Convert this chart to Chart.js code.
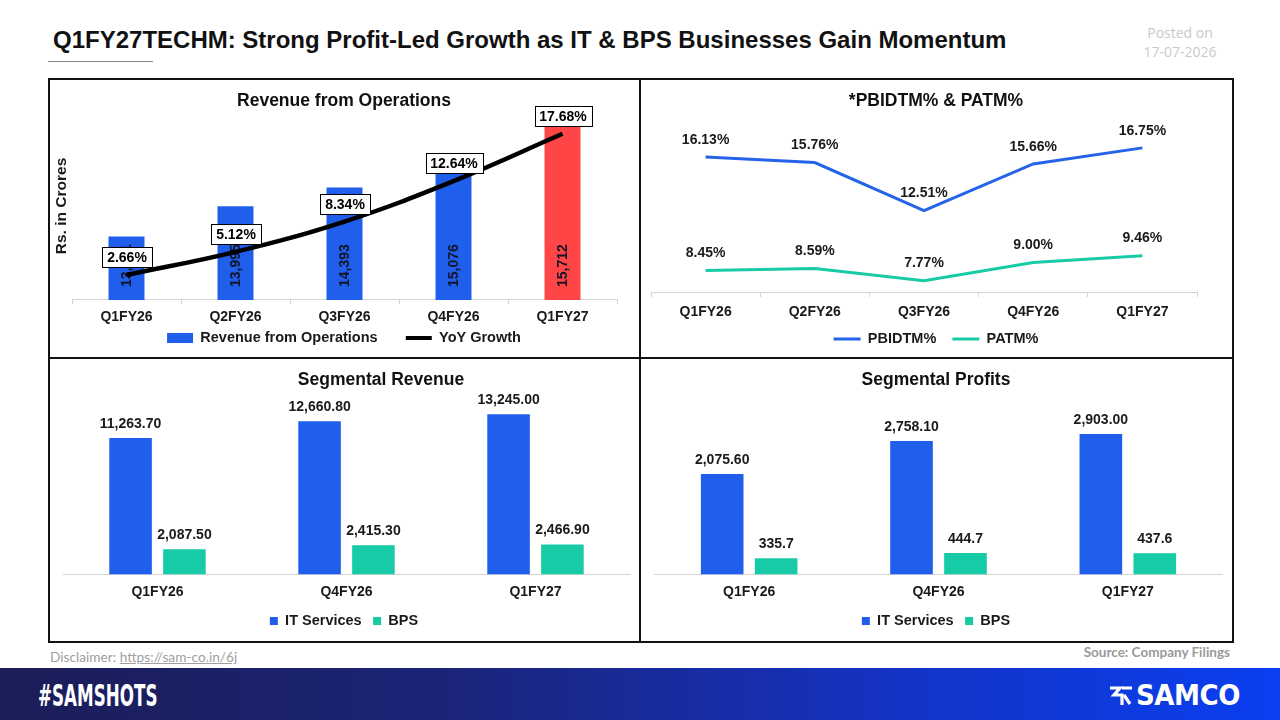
<!DOCTYPE html>
<html>
<head>
<meta charset="utf-8">
<script src="https://cdn.jsdelivr.net/npm/chart.js@4.4.1/dist/chart.umd.min.js"></script>
<style>
  html,body{margin:0;padding:0;}
  body{width:1280px;height:720px;position:relative;background:#fff;overflow:hidden;font-family:'Liberation Sans',Arial,sans-serif;}
  #mainTitle{position:absolute;left:53px;top:25px;font-size:24px;line-height:30px;font-weight:bold;color:#111;white-space:nowrap;}
  #underline{position:absolute;left:48px;top:61px;width:105px;height:1px;background:#8a8a8a;}
  #posted{position:absolute;left:1130px;top:23px;width:100px;text-align:center;font-family:'Open Sans',sans-serif;font-size:14px;line-height:19px;color:#cacaca;}
  #frame{position:absolute;left:48px;top:78px;width:1182px;height:561px;border:2px solid #111;}
  #vline{position:absolute;left:639px;top:78px;width:2px;height:563px;background:#111;}
  #hline{position:absolute;left:48px;top:357px;width:1184px;height:2px;background:#111;}
  .cw{position:absolute;}
  .cw canvas{display:block;}
  #disclaimer{position:absolute;left:50px;top:648px;font-family:Lato,sans-serif;font-size:13.7px;color:#a0a0a0;}
  #disclaimer span{text-decoration:underline;}
  #source{position:absolute;right:50px;top:644px;font-family:Lato,sans-serif;font-weight:bold;font-size:13.5px;color:#9a9a9a;}
  #band{position:absolute;left:0;top:668px;width:1280px;height:52px;background:linear-gradient(90deg,#1b1d57 0%,#1b2478 35%,#1433c4 70%,#0a3ff0 100%);}
  #samshots{position:absolute;left:38px;top:677px;font-family:'DejaVu Sans Condensed','DejaVu Sans',sans-serif;font-weight:bold;font-size:31px;line-height:36px;color:#fff;transform:scaleX(0.6);transform-origin:0 0;white-space:nowrap;}
  #samco{position:absolute;left:1136px;top:678px;font-family:'DejaVu Sans',sans-serif;font-weight:bold;font-size:29px;line-height:34px;color:#fff;letter-spacing:-0.5px;transform:scaleX(0.9);transform-origin:0 0;white-space:nowrap;}
  #logoicon{position:absolute;left:1108px;top:685px;}
</style>
</head>
<body>
<div id="mainTitle">Q1FY27TECHM: Strong Profit-Led Growth as IT &amp; BPS Businesses Gain Momentum</div>
<div id="underline"></div>
<div id="posted">Posted on<br>17-07-2026</div>

<div id="frame"></div>
<div id="vline"></div>
<div id="hline"></div>

<div class="cw" style="left:49px;top:80px;"><canvas id="c1" width="590" height="277"></canvas></div>
<div class="cw" style="left:641px;top:80px;"><canvas id="c2" width="590" height="277"></canvas></div>
<div class="cw" style="left:49px;top:359px;"><canvas id="c3" width="590" height="281"></canvas></div>
<div class="cw" style="left:641px;top:359px;"><canvas id="c4" width="590" height="281"></canvas></div>

<div id="disclaimer">Disclaimer: <span>https://sam-co.in/6j</span></div>
<div id="source">Source: Company Filings</div>
<div id="band"></div>
<div id="samshots">#SAMSHOTS</div>
<svg id="logoicon" width="26" height="22" viewBox="0 0 26 22">
  <path d="M2 3 L12 3 L6 10 L14 10 L14 20" fill="none" stroke="#fff" stroke-width="3.2" stroke-linejoin="miter"/>
  <path d="M14 3 L24 3 M16 10 L22 19" fill="none" stroke="#fff" stroke-width="3.2"/>
</svg>
<div id="samco">SAMCO</div>

<script>
// ---------------- DATA ----------------
const quarterLabels = ['Q1FY26', 'Q2FY26', 'Q3FY26', 'Q4FY26', 'Q1FY27'];
const revenueFromOps = [13351, 13995, 14393, 15076, 15712];
const yoyGrowth = [2.66, 5.12, 8.34, 12.64, 17.68];

const pbidtmPct = [16.13, 15.76, 12.51, 15.66, 16.75];
const patmPct = [8.45, 8.59, 7.77, 9.00, 9.46];

const segmentLabels = ['Q1FY26', 'Q4FY26', 'Q1FY27'];
const segRevenueIT = [11263.70, 12660.80, 13245.00];
const segRevenueBPS = [2087.50, 2415.30, 2466.90];
const segProfitIT = [2075.60, 2758.10, 2903.00];
const segProfitBPS = [335.7, 444.7, 437.6];

// ---------------- STYLE ----------------
const BLUE = '#1f5fec';
const RED = '#ff4545';
const TEAL = '#17cba6';
const LINE_BLUE = '#2563e8';
const TEXT = '#1a1a1a';
const FONT = "'Liberation Sans', Arial, Helvetica, sans-serif";
const LEGEND_FONT = {size: 14.5, weight: 'bold'};
const TITLE_FONT = {size: 17.5, weight: 'bold'};

Chart.defaults.font.family = FONT;
Chart.defaults.color = TEXT;
Chart.defaults.animation = false;
Chart.defaults.plugins.tooltip.enabled = false;

function fmt(v, dec, suffix) {
  return v.toLocaleString('en-US', {minimumFractionDigits: dec, maximumFractionDigits: dec}) + (suffix || '');
}

function drawLabels(chart, i) {
  const ds = chart.data.datasets[i];
  const meta = chart.getDatasetMeta(i);
  if (meta.hidden) return;
  const ctx = chart.ctx;
  const yScale = chart.scales[meta.yAxisID];
  ctx.save();
  ctx.font = 'bold 14px ' + FONT;
  meta.data.forEach((el, j) => {
    const txt = fmt(ds.data[j], ds.decimals || 0, ds.suffix);
    if (ds.labelMode === 'insideVertical') {
      const base = yScale.bottom;
      ctx.save();
      ctx.translate(el.x, base - 13);
      ctx.rotate(-Math.PI / 2);
      ctx.textAlign = 'left';
      ctx.textBaseline = 'middle';
      ctx.fillStyle = '#15152a';
      ctx.fillText(txt, 0, 1);
      ctx.restore();
    } else if (ds.labelMode === 'box') {
      const w = Math.round(ctx.measureText(txt).width + 10);
      const h = 20;
      const cx = Math.round(el.x), cy = Math.round(el.y - 18);
      const x0 = Math.round(cx - w / 2) + 0.5, y0 = Math.round(cy - h / 2) + 0.5;
      ctx.fillStyle = '#fff';
      ctx.fillRect(x0, y0, w, h);
      ctx.strokeStyle = '#000';
      ctx.lineWidth = 1;
      ctx.strokeRect(x0, y0, w, h);
      ctx.fillStyle = '#000';
      ctx.textAlign = 'center';
      ctx.textBaseline = 'middle';
      ctx.fillText(txt, cx, cy + 1);
    } else if (ds.labelMode === 'above') {
      ctx.fillStyle = TEXT;
      ctx.textAlign = 'center';
      ctx.textBaseline = 'middle';
      ctx.fillText(txt, el.x, el.y - 17);
    } else if (ds.labelMode === 'top') {
      ctx.fillStyle = TEXT;
      ctx.textAlign = 'center';
      ctx.textBaseline = 'middle';
      ctx.fillText(txt, el.x, el.y - 14);
    }
  });
  ctx.restore();
}

// Bar-inside labels are drawn before the line is drawn, so the line passes over them.
const valueLabels = {
  id: 'valueLabels',
  afterLayout(chart) {
    const shift = chart.options.titleShift || 0;
    if (shift && chart.titleBlock) chart.titleBlock.left += 2 * shift;
  },
  beforeDraw(chart) { chart.$innerDone = false; },
  beforeDatasetDraw(chart, args) {
    const ds = chart.data.datasets[args.index];
    if (ds.type === 'line' && !chart.$innerDone) {
      chart.data.datasets.forEach((d, i) => { if (d.labelMode === 'insideVertical') drawLabels(chart, i); });
      chart.$innerDone = true;
    }
  },
  afterDatasetsDraw(chart) {
    chart.data.datasets.forEach((ds, i) => {
      if (ds.labelMode === 'insideVertical') {
        if (!chart.$innerDone) drawLabels(chart, i);
      } else if (ds.labelMode) {
        drawLabels(chart, i);
      }
    });
  }
};

function spacedLabels(spaces) {
  return function (chart) {
    const items = Chart.defaults.plugins.legend.labels.generateLabels(chart);
    items.sort((a, b) => a.datasetIndex - b.datasetIndex);
    items.forEach((it, k) => { if (k < items.length - 1) it.text = it.text + ' '.repeat(spaces); });
    return items;
  };
}

function xAxis(tickLen, tickPad, drawTicks) {
  return {
    offset: true,
    grid: {display: true, offset: true, drawOnChartArea: false, drawTicks: drawTicks, tickLength: tickLen, color: '#d4d4d4'},
    border: {display: true, color: '#d4d4d4', width: 1},
    ticks: {padding: tickPad, font: {size: 14, weight: 'bold'}, color: TEXT}
  };
}

// an invisible value axis that only reserves a fixed width beside the plot
function spacerAxis(position, width, extra) {
  return Object.assign({
    type: 'linear', position: position, display: true,
    ticks: {display: false}, grid: {display: false, drawTicks: false}, border: {display: false},
    afterFit: (s) => { s.width = width; }
  }, extra || {});
}

// ---------------- CHART 1: Revenue ----------------
new Chart(document.getElementById('c1'), {
  data: {
    labels: quarterLabels,
    datasets: [
      {
        type: 'bar', label: 'Revenue from Operations', data: revenueFromOps, yAxisID: 'y',
        backgroundColor: revenueFromOps.map((_, i) => i === revenueFromOps.length - 1 ? RED : BLUE),
        categoryPercentage: 1, barPercentage: 0.33, order: 2, pointStyle: 'rect',
        labelMode: 'insideVertical', decimals: 0
      },
      {
        type: 'line', label: 'YoY Growth', data: yoyGrowth, yAxisID: 'y2',
        borderColor: '#000', backgroundColor: '#000', borderWidth: 4.5, tension: 0.4,
        pointRadius: 0, pointHoverRadius: 0, pointStyle: 'line', pointBorderWidth: 4, pointBorderColor: '#000',
        order: 1, labelMode: 'box', decimals: 2, suffix: '%'
      }
    ]
  },
  options: {
    responsive: false, events: [],
    layout: {padding: {left: 0, right: 0, top: 0, bottom: 1.75}},
    scales: {
      x: xAxis(4, 5, true),
      y: {
        min: 12000, max: 16000, display: true,
        ticks: {display: false}, grid: {display: false, drawTicks: false}, border: {display: false},
        title: {display: true, text: 'Rs. in Crores', font: {size: 15.5, weight: 'bold'}, color: TEXT, padding: {top: 3.7, bottom: 0.7}}
      },
      y2: spacerAxis('right', 22, {min: 0, max: 20})
    },
    plugins: {
      title: {display: true, text: 'Revenue from Operations', font: TITLE_FONT, color: '#111', padding: {top: 11, bottom: 0}},
      legend: {
        position: 'bottom',
        labels: {usePointStyle: true, pointStyleWidth: 26, boxHeight: 10, padding: 0,
          font: LEGEND_FONT, color: TEXT, generateLabels: spacedLabels(7),
          sort: (a, b) => a.datasetIndex - b.datasetIndex}
      }
    }
  },
  plugins: [valueLabels]
});

// ---------------- CHART 2: Margins ----------------
new Chart(document.getElementById('c2'), {
  type: 'line',
  data: {
    labels: quarterLabels,
    datasets: [
      {
        label: 'PBIDTM%', data: pbidtmPct, borderColor: LINE_BLUE, backgroundColor: LINE_BLUE, borderWidth: 3,
        tension: 0, pointRadius: 0, pointHoverRadius: 0, pointStyle: 'line', pointBorderWidth: 3, pointBorderColor: LINE_BLUE,
        labelMode: 'above', decimals: 2, suffix: '%'
      },
      {
        label: 'PATM%', data: patmPct, borderColor: TEAL, backgroundColor: TEAL, borderWidth: 3,
        tension: 0, pointRadius: 0, pointHoverRadius: 0, pointStyle: 'line', pointBorderWidth: 3, pointBorderColor: TEAL,
        labelMode: 'above', decimals: 2, suffix: '%'
      }
    ]
  },
  options: {
    responsive: false, events: [],
    layout: {padding: {left: 0, right: 0, top: 0, bottom: 0.75}},
    scales: {
      x: xAxis(5, 7, true),
      y: spacerAxis('left', 10, {min: 7, max: 18}),
      yR: spacerAxis('right', 34, {min: 0, max: 1})
    },
    plugins: {
      title: {display: true, text: '*PBIDTM% & PATM%', font: TITLE_FONT, color: '#111', padding: {top: 11.1, bottom: 17.3}},
      legend: {
        position: 'bottom',
        labels: {usePointStyle: true, pointStyleWidth: 27, boxHeight: 11, padding: 3.95,
          font: LEGEND_FONT, color: TEXT, generateLabels: spacedLabels(3)}
      }
    }
  },
  plugins: [valueLabels]
});

// ---------------- CHARTS 3 & 4: Segments ----------------
function segmentChart(id, title, itData, bpsData, max, itDec, bpsDec, padL, padR, titleShift) {
  new Chart(document.getElementById(id), {
    type: 'bar',
    data: {
      labels: segmentLabels,
      datasets: [
        {label: 'IT Services', data: itData, backgroundColor: BLUE, categoryPercentage: 0.57, barPercentage: 0.79,
          labelMode: 'top', decimals: itDec},
        {label: 'BPS', data: bpsData, backgroundColor: TEAL, categoryPercentage: 0.57, barPercentage: 0.79,
          labelMode: 'top', decimals: bpsDec}
      ]
    },
    options: {
      responsive: false, events: [],
      titleShift: titleShift,
      layout: {padding: {left: 0, right: 0, top: 0, bottom: 1.75}},
      scales: {
        x: xAxis(0, 9.6, false),
        y: spacerAxis('left', padL, {min: 0, max: max}),
        yR: spacerAxis('right', padR, {min: 0, max: 1})
      },
      plugins: {
        title: {display: true, text: title, font: TITLE_FONT, color: '#111', padding: {top: 11.1, bottom: 13.9}},
        legend: {
          position: 'bottom',
          labels: {boxWidth: 8, boxHeight: 8, padding: 3.35, font: LEGEND_FONT, color: TEXT,
            generateLabels: spacedLabels(2)}
        }
      }
    },
    plugins: [valueLabels]
  });
}

segmentChart('c3', 'Segmental Revenue', segRevenueIT, segRevenueBPS, 14000, 2, 2, 14, 9, 37);
segmentChart('c4', 'Segmental Profits', segProfitIT, segProfitBPS, 3500, 2, 1, 13.5, 8.5, 0);
</script>
</body>
</html>
